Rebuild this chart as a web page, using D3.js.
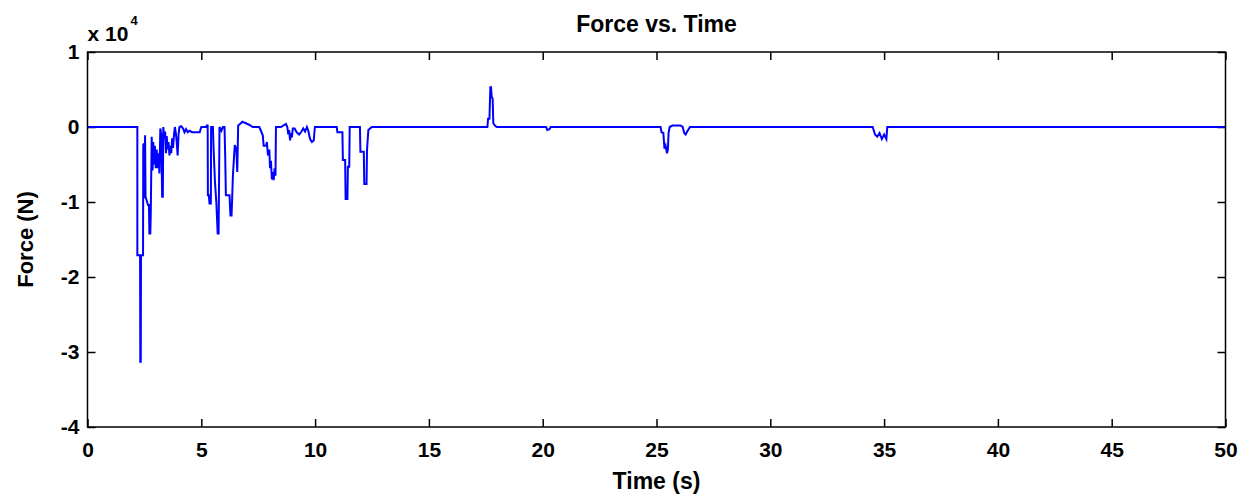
<!DOCTYPE html>
<html>
<head>
<meta charset="utf-8">
<script src="https://cdn.jsdelivr.net/npm/d3@7"></script>
<style>
  body { margin: 0; background: #fff; }
  text { font-family: "Liberation Sans", Arial, sans-serif; font-weight: bold; fill: #000; }
</style>
</head>
<body>
<div id="chart"></div>
<script>
// data: time in seconds, force in units of 10^4 N
var timeSec = [
  0, 2.19, 2.19, 2.31, 2.32, 2.34, 2.35, 2.44, 2.45, 2.48, 2.50, 2.53, 2.55, 2.62, 2.66, 2.70,
  2.72, 2.76, 2.78, 2.82, 2.86, 2.89, 2.93, 2.96, 3.00, 3.04, 3.08, 3.12, 3.16, 3.20, 3.24, 3.28,
  3.31, 3.33, 3.37, 3.41, 3.45, 3.48, 3.52, 3.56, 3.60, 3.64, 3.68, 3.72, 3.76, 3.80, 3.84, 3.88,
  3.92, 3.96, 4.00, 4.04, 4.12, 4.20, 4.26, 4.33, 4.40, 4.48, 4.60, 4.93, 5.00, 5.22, 5.24, 5.28,
  5.29, 5.33, 5.36, 5.42, 5.43, 5.51, 5.54, 5.60, 5.66, 5.72, 5.76, 5.80, 5.88, 5.95, 6.02, 6.05,
  6.08, 6.24, 6.28, 6.33, 6.39, 6.47, 6.54, 6.58, 6.62, 6.74, 6.80, 6.96, 7.10, 7.26, 7.55, 7.62,
  7.70, 7.74, 7.85, 7.88, 7.93, 7.99, 8.02, 8.06, 8.10, 8.14, 8.18, 8.22, 8.26, 8.28, 8.50, 8.72,
  8.78, 8.82, 8.86, 8.90, 8.94, 8.98, 9.02, 9.10, 9.19, 9.30, 9.40, 9.48, 9.56, 9.64, 9.70, 9.78,
  9.86, 9.94, 9.99, 10.95, 10.98, 11.20, 11.22, 11.32, 11.34, 11.42, 11.44, 11.50, 11.52, 11.97, 11.99, 12.14,
  12.16, 12.26, 12.28, 12.34, 12.49, 17.57, 17.60, 17.66, 17.70, 17.73, 17.76, 17.80, 17.83, 17.90, 17.98, 20.15,
  20.20, 20.30, 20.35, 25.18, 25.22, 25.30, 25.35, 25.40, 25.46, 25.50, 25.53, 25.58, 25.70, 26.05, 26.15, 26.22,
  26.28, 26.35, 26.47, 34.50, 34.60, 34.70, 34.80, 34.90, 35.00, 35.10, 35.14, 50
];
var forceE4 = [
  0, 0, -1.71, -1.71, -3.13, -3.13, -1.71, -1.71, -0.24, -0.22, -0.95, -0.11, -0.93, -1.00, -1.04, -1.04,
  -1.42, -1.42, -1.15, -0.13, -0.58, -0.20, -0.50, -0.25, -0.55, -0.30, -0.55, -0.35, -0.62, -0.02, -0.10, -0.93,
  -0.93, 0, -0.15, -0.06, -0.35, -0.12, -0.30, -0.20, -0.38, -0.25, -0.35, -0.15, -0.28, -0.10, 0, -0.08,
  -0.20, -0.38, -0.10, 0, 0.01, -0.02, -0.07, -0.03, -0.07, -0.05, -0.07, -0.07, 0, 0, 0.02, 0.02,
  -0.91, -0.91, -1.02, -1.02, 0, 0, -0.29, -0.73, -1.00, -1.42, -1.42, 0, -0.05, 0, 0, -0.38,
  -0.91, -0.91, -1.18, -1.18, -0.64, -0.24, -0.30, -0.60, 0.02, 0.05, 0.07, 0.05, 0.03, 0, 0, -0.05,
  -0.11, -0.25, -0.25, -0.20, -0.38, -0.30, -0.55, -0.45, -0.70, -0.60, -0.71, -0.55, -0.65, 0, 0, 0.04,
  0, -0.10, -0.04, -0.18, -0.08, -0.14, -0.02, -0.02, -0.07, -0.10, -0.06, -0.02, -0.06, 0, -0.05, -0.16,
  -0.20, -0.18, 0, 0, -0.07, -0.07, -0.44, -0.44, -0.96, -0.96, -0.53, -0.53, 0, 0, -0.33, -0.33,
  -0.76, -0.76, -0.31, -0.04, 0, 0, 0.11, 0.11, 0.53, 0.53, 0.40, 0.38, 0.05, 0.02, 0, 0,
  -0.04, -0.03, 0, 0, -0.07, -0.08, -0.29, -0.25, -0.35, -0.30, -0.08, 0, 0.02, 0.02, 0, -0.08,
  -0.10, -0.06, 0, 0, -0.10, -0.13, -0.08, -0.16, -0.10, -0.16, 0, 0
];
var xTicks = [0, 5, 10, 15, 20, 25, 30, 35, 40, 45, 50];
var yTicks = [-4, -3, -2, -1, 0, 1];

// margins
var svgWidth = 1250;
var svgHeight = 497;

var margin = {
  top: 52,
  right: 24.5,
  bottom: 70,
  left: 87.5
};

var width = svgWidth - margin.left - margin.right;
var height = svgHeight - margin.top - margin.bottom;

var svg = d3.select("#chart")
  .append("svg")
  .attr("width", svgWidth)
  .attr("height", svgHeight);

var chartGroup = svg.append("g")
  .attr("transform", `translate(${margin.left}, ${margin.top})`);

// scales
var xScale = d3.scaleLinear().domain([0, 50]).range([0, width]);
var yScale = d3.scaleLinear().domain([-4, 1]).range([height, 0]);

var points = timeSec.map((t, i) => [t, forceE4[i]]);

// axes, ticks point inward
var bottomAxis = d3.axisBottom(xScale).tickValues(xTicks).tickSize(-8).tickPadding(15).tickFormat(d => String(d));
var leftAxis = d3.axisLeft(yScale).tickValues(yTicks).tickSize(-8).tickPadding(8).tickFormat(d => String(d));
var topAxis = d3.axisTop(xScale).tickValues(xTicks).tickSize(-8).tickFormat("");
var rightAxis = d3.axisRight(yScale).tickValues(yTicks).tickSize(-8).tickFormat("");

function styleAxis(g) {
  g.select(".domain").remove();
  g.selectAll(".tick line").attr("stroke", "#000").attr("stroke-width", 1.5);
  g.selectAll(".tick text").attr("font-size", "21px").attr("fill", "#000");
}

chartGroup.append("g").attr("transform", `translate(0, ${height})`).call(bottomAxis).call(styleAxis);
chartGroup.append("g").call(leftAxis).call(styleAxis);
chartGroup.append("g").call(topAxis).call(styleAxis);
chartGroup.append("g").attr("transform", `translate(${width}, 0)`).call(rightAxis).call(styleAxis);

// force line
chartGroup.append("path")
  .datum(points)
  .attr("fill", "none")
  .attr("stroke", "#0000ff")
  .attr("stroke-width", 2)
  .attr("d", d3.line().x(d => xScale(d[0])).y(d => yScale(d[1])));

// frame
chartGroup.append("rect")
  .attr("width", width)
  .attr("height", height)
  .attr("fill", "none")
  .attr("stroke", "#000")
  .attr("stroke-width", 1.5);

// title and labels
svg.append("text")
  .attr("x", margin.left + width / 2)
  .attr("y", 32)
  .attr("text-anchor", "middle")
  .attr("font-size", "23px")
  .text("Force vs. Time");

var expo = svg.append("text")
  .attr("x", margin.left)
  .attr("y", 41)
  .attr("font-size", "21px")
  .text("x 10");
expo.append("tspan")
  .attr("dy", -16)
  .attr("dx", 2)
  .attr("font-size", "13px")
  .text("4");

svg.append("text")
  .attr("transform", `translate(33, ${margin.top + height / 2}) rotate(-90)`)
  .attr("text-anchor", "middle")
  .attr("font-size", "22px")
  .text("Force (N)");

svg.append("text")
  .attr("x", margin.left + width / 2)
  .attr("y", 489)
  .attr("text-anchor", "middle")
  .attr("font-size", "23px")
  .text("Time (s)");
</script>
</body>
</html>
